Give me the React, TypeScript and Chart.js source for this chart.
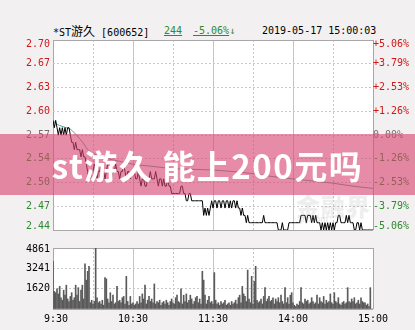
import React, { useEffect, useRef } from 'react';
import { Chart, registerables } from 'chart.js';

Chart.register(...registerables);

// ---- data ----
const prevClose = 2.57;

const prices: number[] = [
  2.59, 2.58, 2.59, 2.58, 2.57, 2.58, 2.57, 2.58, 2.57, 2.58, 2.57, 2.58, 2.58,
  2.57, 2.56, 2.56, 2.55, 2.56, 2.55, 2.55, 2.55, 2.54, 2.55, 2.54, 2.54, 2.53, 2.52, 2.51, 2.51, 2.52,
  2.52, 2.53, 2.52, 2.51, 2.52, 2.52, 2.53, 2.52, 2.52, 2.51, 2.52, 2.53, 2.53, 2.52, 2.51, 2.52,
  2.52, 2.53, 2.52, 2.52, 2.51, 2.52, 2.52, 2.53, 2.52, 2.51, 2.52, 2.52, 2.51, 2.52, 2.52,
  2.52, 2.51, 2.51, 2.52, 2.51, 2.50, 2.51, 2.51, 2.50, 2.50,
  2.51, 2.51, 2.52, 2.51, 2.51, 2.51, 2.52, 2.51, 2.50, 2.51, 2.51, 2.50, 2.51, 2.50, 2.50, 2.51, 2.50, 2.50, 2.49, 2.49,
  2.49, 2.49, 2.49, 2.49, 2.49, 2.50, 2.50, 2.49, 2.49, 2.48, 2.48, 2.49, 2.49, 2.48, 2.48, 2.48, 2.48, 2.48, 2.48, 2.48, 2.48, 2.48,
  2.46, 2.47, 2.46, 2.47, 2.46, 2.47, 2.48, 2.47, 2.48, 2.48, 2.47, 2.48,
  2.48, 2.47, 2.48, 2.48, 2.47, 2.48, 2.48, 2.47, 2.48, 2.47, 2.48, 2.48, 2.47, 2.48, 2.47, 2.47,
  2.46, 2.47, 2.46, 2.46, 2.45, 2.46, 2.45, 2.45,
  2.45, 2.45, 2.45, 2.45, 2.45, 2.45, 2.45, 2.45, 2.45,
  2.46,
  2.45, 2.45, 2.45, 2.45, 2.45, 2.45, 2.45, 2.45, 2.45, 2.45,
  2.44, 2.44, 2.44, 2.45, 2.44, 2.44, 2.44, 2.44, 2.45,
  2.45, 2.45, 2.45, 2.45, 2.45, 2.45, 2.45, 2.45,
  2.46, 2.46, 2.46, 2.46, 2.45, 2.46, 2.46, 2.46, 2.45, 2.46, 2.45, 2.46, 2.45, 2.45, 2.45,
  2.44, 2.45, 2.44, 2.45, 2.44, 2.45, 2.44, 2.45, 2.44, 2.45, 2.44, 2.45, 2.45,
  2.46, 2.46, 2.45, 2.45, 2.45, 2.45, 2.46, 2.45, 2.46, 2.45, 2.45, 2.45,
  2.44, 2.44, 2.45, 2.45, 2.44, 2.45, 2.44, 2.44, 2.44, 2.44, 2.44, 2.44, 2.44, 2.44, 2.44,
];

const avgMinutes: number[] = [0, 2, 5, 10, 13, 16, 20, 23, 26, 30, 35, 40, 50, 60, 75, 90, 105, 120, 135, 150, 165, 185, 200, 210, 225, 240];
const avgValues: number[] = [2.590, 2.586, 2.583, 2.580, 2.578, 2.573, 2.565, 2.558, 2.550, 2.545, 2.541, 2.538, 2.534, 2.530, 2.527, 2.524, 2.523, 2.522, 2.520, 2.517, 2.513, 2.509, 2.506, 2.504, 2.500, 2.497];

const volumes: number[] = [
  3800, 1400, 1300, 1600, 1200, 1800, 900, 700, 1500, 1100,
  1900, 800, 600, 1000, 1300, 700, 900, 1900, 1100, 1700,
  600, 1500, 1900, 800, 3600, 2300, 3000, 3400, 500, 700,
  400, 600, 4861, 900, 500, 600, 400, 700, 300, 2500,
  2400, 800, 500, 1300, 600, 1100, 400, 500, 1800, 600,
  700, 500, 900, 1000, 400, 2600, 600, 300, 1000, 400,
  500, 300, 400, 600, 400, 1000, 500, 1200, 800, 1900,
  400, 700, 1000, 600, 800, 500, 2000, 400, 600, 500,
  700, 300, 500, 600, 400, 700, 500, 300, 600, 800,
  500, 400, 900, 1100, 600, 500, 1600, 400, 1100, 600,
  1200, 500, 700, 1100, 800, 400, 600, 900, 1000, 500,
  800, 400, 3000, 2300, 1100, 400, 700, 1000, 500, 600, 400,
  2900, 700, 400, 500, 300, 600, 400, 500, 700, 300,
  400, 500, 300, 600, 400, 500, 700, 400, 900, 1100,
  500, 1800, 1200, 1000, 600, 3100, 800, 500, 2600, 400,
  2200, 3400, 700, 500, 600, 800, 400, 1000, 1700, 600,
  800, 1000, 600, 700, 900, 400, 800, 600, 900, 500,
  1100, 600, 400, 1700, 500, 900, 400, 1100, 1300, 500,
  300, 200, 400, 300, 600, 1700, 500, 400, 800, 600,
  700, 400, 500, 900, 600, 400, 500, 1100, 400, 900,
  600, 500, 1000, 400, 700, 500, 600, 1200, 500, 400,
  1300, 600, 500, 900, 400, 300, 500, 600, 400, 500,
  1700, 600, 500, 800, 600, 900, 400, 500, 700, 400,
  900, 600, 500, 500, 300, 400, 200, 1700, 0, 0,
];

const priceTicks: number[] = [2.44, 2.4725, 2.505, 2.5375, 2.57, 2.6025, 2.635, 2.6675, 2.70];
const priceTickLabels: string[] = ['2.44', '2.47', '2.50', '2.54', '2.57', '2.60', '2.63', '2.67', '2.70'];
const pctTickLabels: string[] = ['-5.06%', '-3.79%', '-2.53%', '-1.26%', '0.00%', '+1.26%', '+2.53%', '+3.79%', '+5.06%'];
const volTicks: number[] = [0, 1620, 3241, 4861];
const volTickLabels: string[] = ['', '1620', '3241', '4861'];
const timeTicks: number[] = [0, 30, 60, 90, 120, 150, 180, 210, 240];
const timeLabels: string[] = [' 9:30', '', '10:30', '', '11:30', '', '14:00', '', '15:00'];

const stockTitle = '*ST游久 [600652]';
const lastPrice = '244';
const lastChange = '-5.06%↓';
const stamp = '2019-05-17 15:00:03';
const bannerText = 'st游久 能上200元吗';

// ---- styles ----
const RED = '#d01818';
const GREEN = '#2f8a2f';
const NEUTRAL = '#707070';
const BORDER = '#a8a8a8';
const SOLID = '#c4c4c4';
const DASHED = '#c8c8c8';
const MONO = '"DejaVu Sans Mono", "Liberation Mono", monospace';

const bgPlugin = {
  id: 'areaBg',
  beforeDraw(chart: any) {
    const { ctx, chartArea: a } = chart;
    ctx.save();
    ctx.fillStyle = '#ffffff';
    ctx.fillRect(a.left, a.top, a.right - a.left, a.bottom - a.top);
    ctx.restore();
  },
};

const setTicks = (values: number[]) => (scale: any) => {
  scale.ticks = values.map((v) => ({ value: v }));
};

const xGridColor = (ctx: any) => {
  const i = ctx.index;
  if (i === 0 || i === timeTicks.length - 1) return BORDER;
  return i % 2 === 0 ? SOLID : DASHED;
};
const xGridDash = (ctx: any) => {
  if (ctx.type !== 'tick') return [];
  return ctx.index % 2 === 1 ? [2, 2] : [];
};
const yGridColor = (n: number) => (ctx: any) => (ctx.index === 0 || ctx.index === n - 1 ? BORDER : DASHED);
const yGridDash = (n: number) => (ctx: any) => {
  if (ctx.type !== 'tick') return [];
  return ctx.index === 0 || ctx.index === n - 1 ? [] : [2, 2];
};
const sideColor = (ctx: any) => (ctx.index < 4 ? GREEN : ctx.index === 4 ? NEUTRAL : RED);

// keep the end labels inside the plot box, as the original terminal does
const edgeLabel = (labels: string[]) => (_v: any, i: number) => {
  if (i === 0) return [labels[i], ''];
  if (i === labels.length - 1) return ['', labels[i]];
  return labels[i];
};
const edgeFont = (n: number, bottomLH: number, topLH: number) => (ctx: any) => {
  const base = { family: MONO, size: 10 } as any;
  if (ctx.index === 0) return { ...base, lineHeight: bottomLH };
  if (ctx.index === n - 1) return { ...base, lineHeight: topLH };
  return base;
};

export default function App() {
  const priceRef = useRef<HTMLCanvasElement>(null);
  const volRef = useRef<HTMLCanvasElement>(null);

  useEffect(() => {
    document.body.style.margin = '0';
    const font = { family: MONO, size: 10 };

    const priceChart = new Chart(priceRef.current as HTMLCanvasElement, {
      type: 'line',
      data: {
        datasets: [
          {
            data: prices.map((p, i) => ({ x: i, y: p })),
            borderColor: '#000000',
            borderWidth: 1,
            pointRadius: 0,
            tension: 0,
            yAxisID: 'y',
          },
          {
            data: avgMinutes.map((m, k) => ({ x: m, y: avgValues[k] })),
            borderColor: '#5b9c92',
            borderWidth: 1,
            pointRadius: 0,
            tension: 0.3,
            yAxisID: 'y',
          },
        ],
      },
      options: {
        responsive: false,
        animation: false,
        events: [],
        layout: { padding: { top: 12, bottom: 6, left: 0, right: 0 } },
        plugins: { legend: { display: false }, tooltip: { enabled: false } },
        scales: {
          x: {
            type: 'linear',
            min: 0,
            max: 240,
            afterBuildTicks: setTicks(timeTicks),
            afterFit: (s: any) => { s.height = 0; },
            ticks: { display: false },
            grid: { color: xGridColor, drawTicks: false, lineWidth: 1 },
            border: { display: false, dash: xGridDash },
          },
          y: {
            type: 'linear',
            position: 'left',
            min: 2.44,
            max: 2.70,
            afterBuildTicks: setTicks(priceTicks),
            afterFit: (s: any) => { s.width = 53; },
            ticks: {
              font: edgeFont(priceTicks.length, 0.7, 0.9),
              padding: 3,
              color: sideColor,
              autoSkip: false,
              callback: edgeLabel(priceTickLabels),
            },
            grid: { color: yGridColor(priceTicks.length), drawTicks: false },
            border: { display: false, dash: yGridDash(priceTicks.length) },
          },
          y2: {
            type: 'linear',
            position: 'right',
            min: 2.44,
            max: 2.70,
            afterBuildTicks: setTicks(priceTicks),
            afterFit: (s: any) => { s.width = 42; },
            ticks: {
              font: edgeFont(priceTicks.length, 0.7, 0.9),
              padding: 0,
              color: sideColor,
              autoSkip: false,
              callback: edgeLabel(pctTickLabels),
            },
            grid: { drawOnChartArea: false, drawTicks: false },
            border: { display: false },
          },
        },
      },
      plugins: [bgPlugin],
    } as any);

    const volChart = new Chart(volRef.current as HTMLCanvasElement, {
      type: 'bar',
      data: {
        datasets: [
          {
            data: volumes.map((v, i) => ({ x: i, y: v })),
            backgroundColor: '#5a5a5a',
            barThickness: 1,
          },
        ],
      },
      options: {
        responsive: false,
        animation: false,
        events: [],
        layout: { padding: { top: 8, bottom: 0, left: 0, right: 42 } },
        plugins: { legend: { display: false }, tooltip: { enabled: false } },
        scales: {
          x: {
            type: 'linear',
            min: 0,
            max: 240,
            offset: false,
            afterBuildTicks: setTicks(timeTicks),
            afterFit: (s: any) => { s.height = 21; },
            ticks: {
              font,
              color: '#000',
              padding: 4,
              maxRotation: 0,
              autoSkip: false,
              callback: (_v: any, i: number) => timeLabels[i],
            },
            grid: { color: xGridColor, drawTicks: false, offset: false },
            border: { display: false, dash: xGridDash },
          },
          y: {
            type: 'linear',
            position: 'left',
            min: 0,
            max: 4861,
            afterBuildTicks: setTicks(volTicks),
            afterFit: (s: any) => { s.width = 53; },
            ticks: {
              font: edgeFont(volTicks.length, 1.2, 0.2),
              padding: 3,
              color: '#000',
              autoSkip: false,
              callback: edgeLabel(volTickLabels),
            },
            grid: { color: yGridColor(volTicks.length), drawTicks: false },
            border: { display: false, dash: yGridDash(volTicks.length) },
          },
        },
      },
      plugins: [bgPlugin],
    } as any);

    return () => {
      priceChart.destroy();
      volChart.destroy();
    };
  }, []);

  const titleBase: React.CSSProperties = {
    position: 'absolute',
    top: 24,
    fontFamily: MONO + ', "Noto Sans CJK SC"',
    fontSize: 10,
    lineHeight: '14px',
    whiteSpace: 'pre',
  };

  return (
    <div
      style={{
        position: 'fixed',
        left: 0,
        top: 0,
        width: 415,
        height: 330,
        background: '#f2f0f0',
        overflow: 'hidden',
      }}
    >
      <div style={{ ...titleBase, left: 53, color: '#000' }}>
        <span>{stockTitle.slice(0, 3)}</span>
        <span style={{ fontFamily: '"Noto Sans CJK SC"', fontSize: 12 }}>{stockTitle.slice(3, 5)}</span>
        <span>{stockTitle.slice(5)}</span>
      </div>
      <div style={{ ...titleBase, left: 164, color: GREEN, textDecoration: 'underline' }}>{lastPrice}</div>
      <div style={{ ...titleBase, left: 193, color: GREEN }}>
        <span style={{ textDecoration: 'underline' }}>{lastChange.slice(0, -1)}</span>
        <span>{lastChange.slice(-1)}</span>
      </div>
      <div style={{ ...titleBase, left: 262, color: '#000' }}>{stamp}</div>

      <div style={{ position: 'absolute', left: 0, top: 28, width: 415, height: 212 }}>
        <canvas ref={priceRef} width={415} height={212} />
      </div>
      <div style={{ position: 'absolute', left: 0, top: 240, width: 415, height: 90 }}>
        <canvas ref={volRef} width={415} height={90} />
      </div>

      <div
        style={{
          position: 'absolute',
          left: 296,
          top: 193,
          fontFamily: '"Noto Sans CJK SC"',
          fontWeight: 900,
          fontSize: 24,
          lineHeight: '26px',
          color: 'rgba(150,150,150,0.16)',
          letterSpacing: 1,
        }}
      >
        金融界
      </div>
      <div
        style={{
          position: 'absolute',
          left: 300,
          top: 214,
          fontFamily: 'Roboto',
          fontWeight: 700,
          fontSize: 9,
          color: 'rgba(150,150,150,0.2)',
        }}
      >
        jrj.com
      </div>

      <div
        style={{
          position: 'absolute',
          left: 0,
          top: 134,
          width: 415,
          height: 61,
          background: 'rgba(216, 70, 114, 0.62)',
          display: 'flex',
          alignItems: 'center',
          justifyContent: 'center',
        }}
      >
        <span
          style={{
            fontFamily: '"Noto Sans CJK SC"',
            fontWeight: 700,
            fontSize: 33,
            color: '#ffffff',
            letterSpacing: 1.5,
            whiteSpace: 'pre',
          }}
        >
          {bannerText}
        </span>
      </div>
    </div>
  );
}
